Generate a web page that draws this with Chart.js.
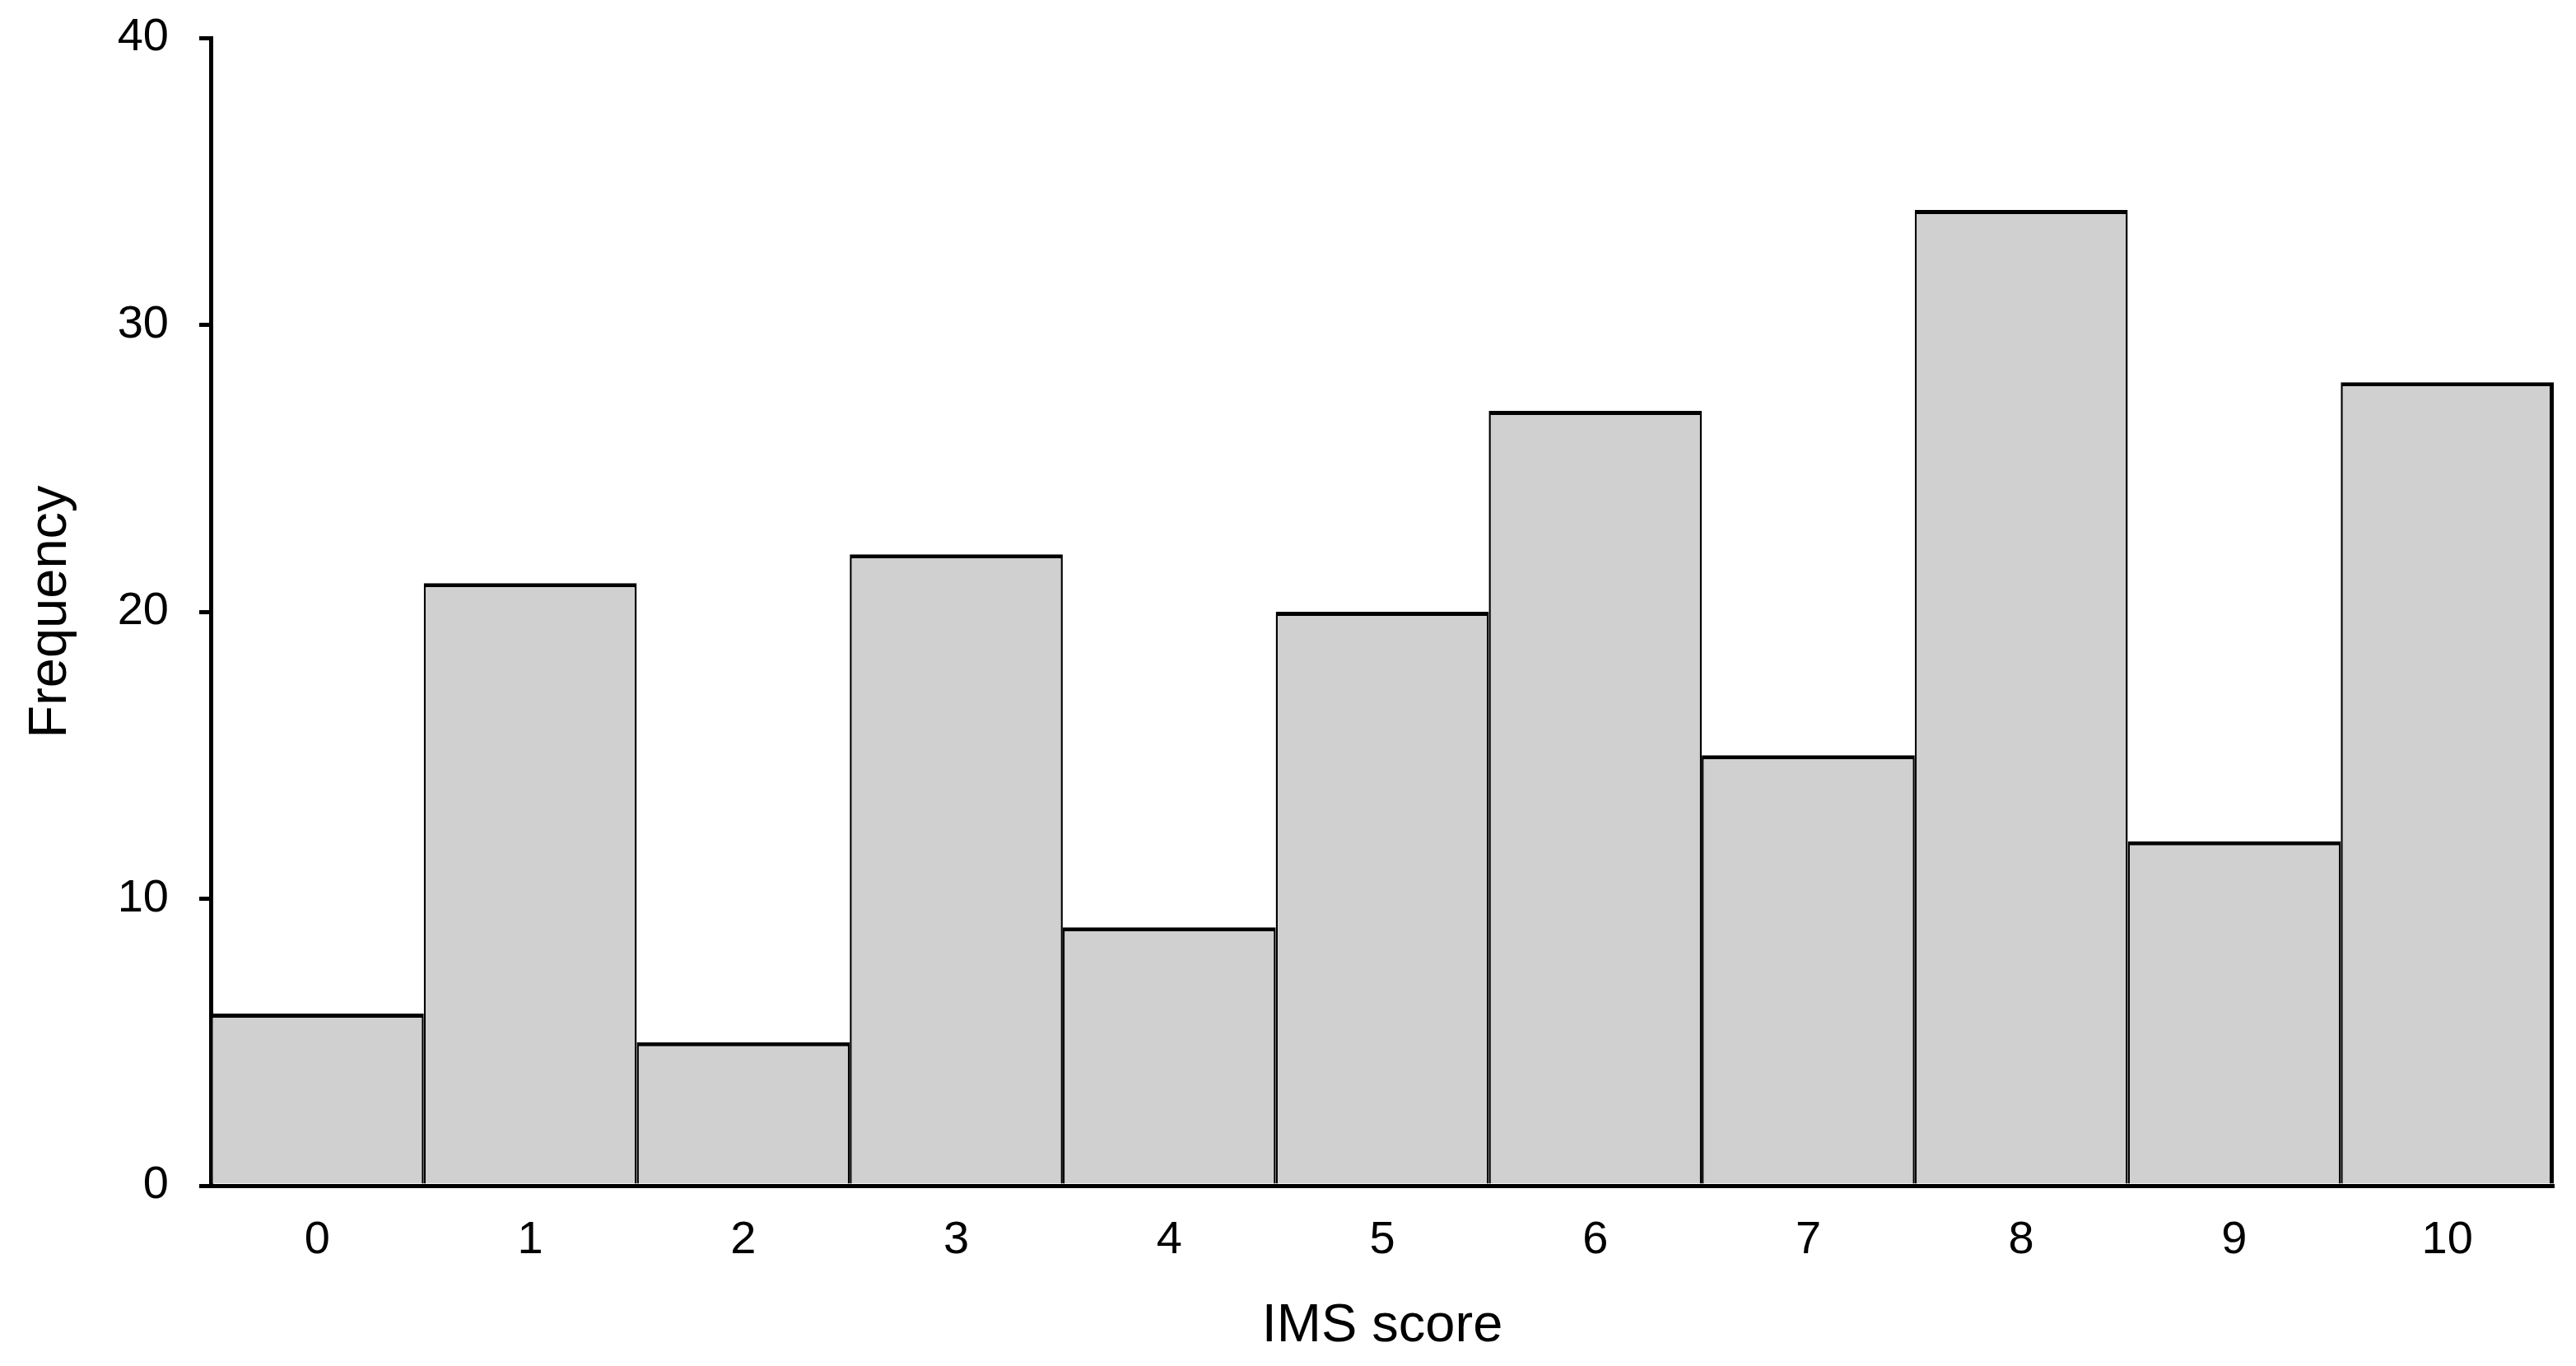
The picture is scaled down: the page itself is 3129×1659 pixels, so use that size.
<!DOCTYPE html>
<html>
<head>
<meta charset="utf-8">
<script src="https://cdn.jsdelivr.net/npm/chart.js@4/dist/chart.umd.min.js"></script>
<style>
html,body{margin:0;padding:0;background:#fff;}
#c{display:block;}
</style>
</head>
<body>
<canvas id="c" width="3129" height="1659"></canvas>
<script>
const categories = ["0","1","2","3","4","5","6","7","8","9","10"];
const frequencies = [6, 21, 5, 22, 9, 20, 27, 15, 34, 12, 28];
const yTicks = [0, 10, 20, 30, 40];
const xTitle = "IMS score";
const yTitle = "Frequency";

const FONT = "'Liberation Sans', Arial, sans-serif";
const lastIndex = frequencies.length - 1;

new Chart(document.getElementById('c'), {
  type: 'bar',
  data: {
    labels: categories,
    datasets: [{
      data: frequencies,
      backgroundColor: '#d1d0d1',
      borderColor: '#000000',
      borderWidth: (ctx) => ({left: 2.5, right: ctx.dataIndex === lastIndex ? 5 : 2.5, top: 5, bottom: 0}),
      borderSkipped: false,
      categoryPercentage: 1.0,
      barPercentage: 1.0,
      inflateAmount: 0
    }]
  },
  options: {
    responsive: false,
    devicePixelRatio: 1,
    animation: false,
    layout: { padding: { top: 46, right: 27, bottom: 0, left: 0 } },
    plugins: { legend: { display: false }, tooltip: { enabled: false } },
    scales: {
      x: {
        type: 'category',
        offset: true,
        grid: { display: false, drawTicks: false },
        border: { display: true, color: '#000', width: 5 },
        ticks: { color: '#000', font: { family: FONT, size: 56 }, padding: 33, maxRotation: 0 },
        title: { display: true, text: xTitle, color: '#000', font: { family: FONT, size: 65 }, padding: { top: 0, bottom: 9 } },
        afterFit: (s) => { s.height = 219; s.paddingLeft = 0; s.paddingRight = 0; }
      },
      y: {
        min: yTicks[0],
        max: yTicks[yTicks.length - 1],
        afterBuildTicks: (s) => { s.ticks = yTicks.map(v => ({ value: v })); },
        grid: { display: true, drawOnChartArea: false, drawTicks: true, tickLength: 14, color: '#000', lineWidth: 5 },
        border: { display: true, color: '#000', width: 5 },
        ticks: { color: '#000', font: { family: FONT, size: 56 }, padding: 37 },
        title: { display: true, text: yTitle, color: '#000', font: { family: FONT, size: 65 }, padding: { top: 23, bottom: 0 } },
        afterFit: (s) => { s.width = 256; s.paddingTop = 0; s.paddingBottom = 0; }
      }
    }
  }
});
</script>
</body>
</html>
